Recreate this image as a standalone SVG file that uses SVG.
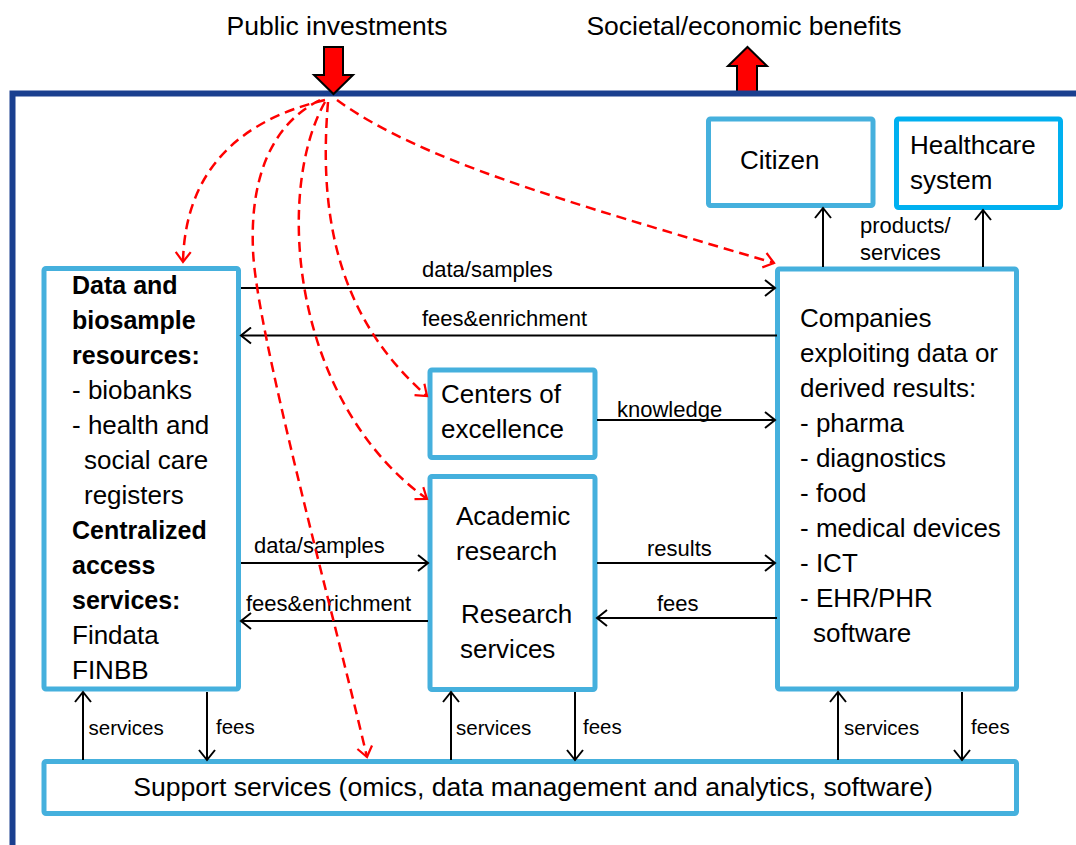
<svg xmlns="http://www.w3.org/2000/svg" width="1076" height="845" viewBox="0 0 1076 845">
<style>
text { font-family: "Liberation Sans", Arial, sans-serif; fill: #000; }
.box { fill: #fff; stroke: #45B0DD; stroke-width: 5; }
.hc { stroke: #00B0F0; }
.t { font-size: 26px; }
.sup { font-size: 26.6px; }
.b { font-size: 25px; font-weight: bold; }
.lbl { font-size: 22px; }
.sl { font-size: 20.5px; }
.big { font-size: 26.5px; }
.ar { stroke: #000; stroke-width: 2; fill: none; marker-end: url(#ah); }
.rd { stroke: #FF0000; stroke-width: 2.5; fill: none; stroke-dasharray: 10 6; marker-end: url(#rh); }
.blk { fill: #FF0000; stroke: #000; stroke-width: 2; stroke-linejoin: miter; }
</style>
<defs>
<marker id="ah" markerUnits="userSpaceOnUse" markerWidth="14" markerHeight="18" viewBox="0 0 14 18" refX="11" refY="9" orient="auto">
<path d="M1,1 L11,9 L1,17" fill="none" stroke="#000" stroke-width="2"/>
</marker>
<marker id="rh" markerUnits="userSpaceOnUse" markerWidth="14" markerHeight="18" viewBox="0 0 14 18" refX="11" refY="9" orient="auto">
<path d="M1,1.5 L11,9 L1,16.5" fill="none" stroke="#FF0000" stroke-width="2.2"/>
</marker>
</defs>
<rect width="1076" height="845" fill="#fff"/>

<g id="benefits">
<polygon class="blk" points="747.5,47 767,66 757,66 757,94 737,94 737,66 728,66"/>
<text class="big" x="744" y="35" text-anchor="middle">Societal/economic benefits</text>
</g>

<g id="frame">
<path d="M12.5,845 V93.5 H1076" fill="none" stroke="#1A3F8F" stroke-width="6"/>
</g>

<g id="public-investments">
<polygon class="blk" points="324,47 343,47 343,75 353,75 333.5,94 314,75 324,75"/>
<text class="big" x="337" y="35" text-anchor="middle">Public investments</text>
</g>

<g id="citizen">
<rect class="box" x="708.5" y="119" width="164.5" height="86.5" rx="2"/>
<text class="t" x="740" y="169">Citizen</text>
</g>

<g id="healthcare">
<rect class="box hc" x="896.5" y="119" width="164" height="88.5" rx="2"/>
<text class="t" x="910" y="154">Healthcare</text>
<text class="t" x="910" y="189">system</text>
</g>

<g id="data-resources">
<rect class="box" x="44" y="268.5" width="194.5" height="420.5" rx="2"/>
<text class="b" x="72" y="294">Data and</text>
<text class="b" x="72" y="329">biosample</text>
<text class="b" x="72" y="364">resources:</text>
<text class="t" x="72" y="399">- biobanks</text>
<text class="t" x="72" y="434">- health and</text>
<text class="t" x="84" y="469">social care</text>
<text class="t" x="84" y="504">registers</text>
<text class="b" x="72" y="539">Centralized</text>
<text class="b" x="72" y="574">access</text>
<text class="b" x="72" y="609">services:</text>
<text class="t" x="72" y="644">Findata</text>
<text class="t" x="72" y="679">FINBB</text>
</g>

<g id="centers">
<rect class="box" x="430" y="370" width="165" height="87.5" rx="2"/>
<text class="t" x="441" y="403">Centers of</text>
<text class="t" x="441" y="438">excellence</text>
</g>

<g id="academic">
<rect class="box" x="430" y="476.5" width="165" height="213" rx="2"/>
<text class="t" x="456" y="525">Academic</text>
<text class="t" x="456" y="560">research</text>
<text class="t" x="461" y="623">Research</text>
<text class="t" x="460" y="658">services</text>
</g>

<g id="companies">
<rect class="box" x="777.5" y="269" width="239" height="420" rx="2"/>
<text class="t" x="800" y="327">Companies</text>
<text class="t" x="800" y="362">exploiting data or</text>
<text class="t" x="800" y="397">derived results:</text>
<text class="t" x="800" y="432">- pharma</text>
<text class="t" x="800" y="467">- diagnostics</text>
<text class="t" x="800" y="502">- food</text>
<text class="t" x="800" y="537">- medical devices</text>
<text class="t" x="800" y="572">- ICT</text>
<text class="t" x="800" y="607">- EHR/PHR</text>
<text class="t" x="813" y="642">software</text>
</g>

<g id="support">
<rect class="box" x="44" y="761.5" width="972.5" height="52" rx="2"/>
<text class="sup" x="533" y="796" text-anchor="middle">Support services (omics, data management and analytics, software)</text>
</g>

<g id="connectors">
<path class="ar" d="M241,288 H775"/>
<text class="lbl" x="422" y="277">data/samples</text>
<path class="ar" d="M777,335.5 H241"/>
<text class="lbl" x="422" y="326">fees&amp;enrichment</text>
<path class="ar" d="M597,420 H775"/>
<text class="lbl" x="617" y="417">knowledge</text>
<path class="ar" d="M241,563 H428"/>
<text class="lbl" x="254" y="553">data/samples</text>
<path class="ar" d="M428,621 H241"/>
<text class="lbl" x="246" y="611">fees&amp;enrichment</text>
<path class="ar" d="M597,563 H775"/>
<text class="lbl" x="647" y="556">results</text>
<path class="ar" d="M777,618 H597"/>
<text class="lbl" x="657" y="611">fees</text>
<path class="ar" d="M823,267 V208"/>
<path class="ar" d="M983,267 V210"/>
<text class="lbl" x="860" y="233">products/</text>
<text class="lbl" x="860" y="260">services</text>
<path class="ar" d="M83,760 V692"/>
<path class="ar" d="M207,692 V760"/>
<path class="ar" d="M451,760 V692"/>
<path class="ar" d="M575,692 V760"/>
<path class="ar" d="M838,760 V692"/>
<path class="ar" d="M962,692 V760"/>
<text class="sl" x="88.5" y="735">services</text>
<text class="sl" x="216" y="734">fees</text>
<text class="sl" x="456" y="735">services</text>
<text class="sl" x="583" y="734">fees</text>
<text class="sl" x="844" y="735">services</text>
<text class="sl" x="971" y="734">fees</text>
<path class="rd" d="M325,100 C240,120 185,170 183,262"/>
<path class="rd" d="M320,100 C270,125 250,180 253,250 C256,330 330,600 367,757"/>
<path class="rd" d="M325,102 C275,190 290,400 427,499"/>
<path class="rd" d="M328,102 C318,220 340,320 427,396"/>
<path class="rd" d="M337,100 C420,160 560,200 774,263"/>
</g>
</svg>
